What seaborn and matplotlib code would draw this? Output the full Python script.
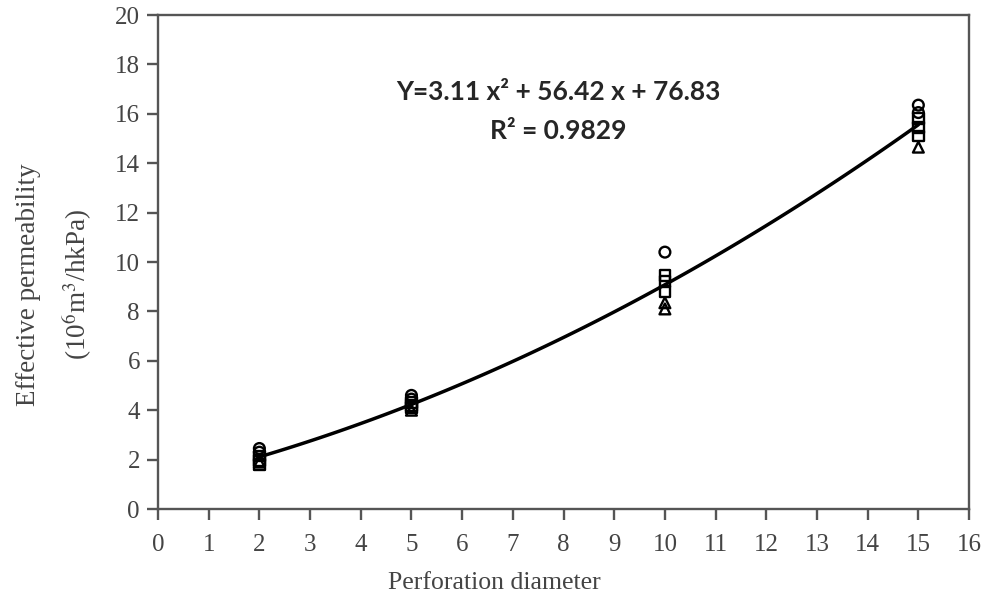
import matplotlib
matplotlib.use('Agg')
import matplotlib.pyplot as plt
import numpy as np
import pandas as pd
import seaborn as sns

# measured values, grouped by marker shape
circle_x = [2, 2, 5, 5, 10, 15, 15]
circle_y = [2.45, 2.3, 4.6, 4.45, 10.4, 16.35, 16.05]
square_x = [2, 2, 2, 5, 5, 5, 10, 10, 10, 15, 15, 15]
square_y = [2.15, 1.95, 1.8, 4.3, 4.2, 4.1, 9.45, 9.2, 8.8, 15.8, 15.45, 15.1]
triangle_x = [2, 5, 10, 10, 15]
triangle_y = [1.9, 4.0, 8.35, 8.1, 14.65]

x_ticks = list(range(0, 17))
y_ticks = list(range(0, 21, 2))

eq_text = 'Y=3.11 x\u00b2 + 56.42 x + 76.83'
r2_text = 'R\u00b2 = 0.9829'

sns.set_style('white')
plt.rcParams['font.family'] = ['Liberation Serif', 'DejaVu Serif']
plt.rcParams['mathtext.fontset'] = 'stix'

df = pd.concat([
    pd.DataFrame({'x': circle_x, 'y': circle_y, 'kind': 'circle'}),
    pd.DataFrame({'x': square_x, 'y': square_y, 'kind': 'square'}),
    pd.DataFrame({'x': triangle_x, 'y': triangle_y, 'kind': 'triangle'}),
])

fig = plt.figure(figsize=(9.85, 5.98), dpi=100)
ax = fig.add_axes([0.1604, 0.1488, 0.8234, 0.8261])

# quadratic trend line through all points
sns.regplot(data=df, x='x', y='y', order=2, ci=None, scatter=False, ax=ax,
            line_kws={'color': 'black', 'lw': 2.5})

sns.scatterplot(data=df, x='x', y='y', style='kind',
                markers={'circle': 'o', 'square': 's', 'triangle': '^'},
                color='black', s=60, linewidth=1.7, legend=False, ax=ax)
# open markers with black outline
for coll in ax.collections:
    coll.set_facecolor('none')
    coll.set_edgecolor('black')

ax.set_xlim(0, 16)
ax.set_ylim(0, 20)
ax.set_xticks(x_ticks)
ax.set_yticks(y_ticks)

grey = '#555555'
for sp in ax.spines.values():
    sp.set_color(grey)
    sp.set_linewidth(1.7)
ax.tick_params(axis='both', direction='out', length=8, width=1.7, color=grey,
               labelsize=18, labelcolor='#444444')
ax.tick_params(axis='x', pad=10)
ax.tick_params(axis='y', pad=5)
ax.tick_params(top=False, right=False, bottom=True, left=True)

ax.set_xlabel('Perforation diameter', fontsize=18.5, color='#444444')
ax.xaxis.set_label_coords(0.415, -0.128)
ax.set_ylabel('Effective permeability\n(10$^{6}$m$^{3}$/hkPa)', fontsize=19.5,
              color='#444444', linespacing=1.75)
ax.yaxis.set_label_coords(-0.079, 0.455)

ax.text(7.9, 16.9, eq_text, ha='center', va='center', fontsize=19,
        fontweight='bold', family=['Lato', 'DejaVu Sans'])
ax.text(7.9, 15.3, r2_text, ha='center', va='center', fontsize=19,
        fontweight='bold', family=['Lato', 'DejaVu Sans'])

fig.savefig('out.png', dpi=100)
